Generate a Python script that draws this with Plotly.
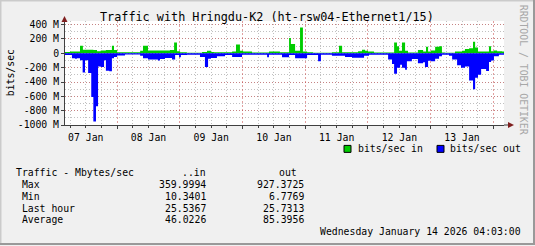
import pandas as pd
import plotly.graph_objects as go

# ---- data ----
# step start times, hours since 2026-01-07 00:00, and values in Mbit/s
in_hours = [4.05, 6.0, 9.8, 10.9, 14.9, 16.3, 17.7, 19.7, 22.0, 22.8, 24.0, 32.8, 33.9, 35.8,
            44.2, 45.8, 46.9, 48.1, 50.7, 56.5, 58.4, 59.9, 61.1, 68.0, 69.5, 71.0, 72.2, 75.6,
            82.1, 86.3, 89.8, 90.5, 92.1, 94.0, 95.1, 96.7, 99.0, 106.2, 108.9, 110.1, 116.2,
            117.7, 118.9, 120.0, 122.3, 130.0, 131.1, 131.9, 133.0, 134.2, 135.3, 139.1, 141.1,
            142.2, 143.0, 144.1, 145.7, 147.2, 148.3, 149.5, 153.3, 156.0, 157.1, 158.7, 160.2,
            161.0, 162.1, 166.3, 167.1, 168.2, 169.4, 171.3]
in_vals = [20, 25, 105, 50, 45, 30, 40, 48, 105, 48, 15, 35, 105, 40,
           45, 150, 30, 15, 8, 20, 35, 20, 15, 25, 122, 35, 25, 10,
           25, 15, 215, 130, 35, 360, 25, 15, 8, 15, 104, 15, 30,
           50, 35, 25, 10, 150, 100, 35, 150, 35, 10, 45, 25,
           90, 25, 40, 90, 100, 10, 8, 25, 35, 60, 70, 160,
           80, 25, 100, 30, 40, 30, 25]

out_hours = [4.05, 6.7, 7.9, 8.6, 9.8, 10.8, 11.7, 12.9, 14.1, 14.9, 15.9, 16.7, 17.7, 19.0,
             19.7, 21.0, 22.0, 22.8, 24.0, 27.0, 32.8, 33.9, 35.8, 39.6, 40.4, 42.3, 45.0,
             46.2, 47.7, 48.4, 50.7, 55.7, 57.6, 58.8, 59.9, 62.2, 65.3, 68.0, 71.8, 81.4,
             82.1, 87.1, 89.8, 92.1, 96.7, 100.9, 102.0, 106.2, 111.2, 113.9, 118.5, 120.4,
             127.7, 129.2, 130.0, 131.1, 132.3, 133.0, 134.2, 134.9, 136.8, 139.1, 141.1,
             141.8, 143.0, 144.1, 145.7, 147.2, 148.3, 151.0, 152.2, 154.1, 155.6, 157.1,
             158.7, 160.2, 161.0, 162.1, 163.3, 165.2, 166.3, 167.1, 168.2, 170.1]
out_vals = [25, 67, 75, 67, 95, 266, 95, 275, 610, 950, 740, 183, 190, 95,
            243, 250, 70, 50, 30, 15, 35, 70, 85, 100, 80, 65, 85,
            25, 55, 25, 20, 50, 190, 75, 65, 40, 25, 50, 20, 55,
            20, 55, 25, 70, 25, 110, 20, 35, 50, 60, 35, 20,
            85, 150, 285, 200, 160, 200, 230, 110, 80, 140, 125,
            190, 105, 110, 75, 40, 20, 35, 85, 165, 200, 185,
            378, 500, 340, 300, 220, 245, 120, 100, 40, 20]

y_ticks = [400, 200, 0, -200, -400, -600, -800, -1000]
y_labels = ["400 M", "200 M", "0", "-200 M", "-400 M", "-600 M", "-800 M", "-1000 M"]

stat_rows = ["Max", "Min", "Last hour", "Average"]
stat_in = ["359.9994", "10.3401", "25.5367", "46.0226"]
stat_out = ["927.3725", "6.7769", "25.7313", "85.3956"]

title = "Traffic with Hringdu-K2 (ht-rsw04-Ethernet1/15)"
stamp = "Wednesday January 14 2026 04:03:00"

# ---- build ----
base = pd.Timestamp("2026-01-07 00:00")
end_h = 172.05
t_start = base + pd.to_timedelta(4.05, unit="h")
t_end = base + pd.to_timedelta(end_h, unit="h")

def steps(hours, vals, sign):
    xs = [base + pd.to_timedelta(h, unit="h") for h in hours] + [t_end]
    ys = [sign * v * 1e6 for v in vals] + [sign * vals[-1] * 1e6]
    return xs, ys

W, H = 535, 246
L, R, T, B = 65, 504, 21, 125.5
def px(x):
    return (x - L) / (R - L)
def py(y):
    return (B - y) / (B - T)

FONT = "DejaVu Sans Mono"
FS = 9.8
fig = go.Figure()
xi, yi = steps(in_hours, in_vals, 1)
xo, yo = steps(out_hours, out_vals, -1)
fig.add_trace(go.Scatter(x=xi, y=yi, mode="lines", line=dict(shape="hv", width=0, color="#00CC00"),
                         fill="tozeroy", fillcolor="#00CC00", hoverinfo="skip"))
fig.add_trace(go.Scatter(x=xo, y=yo, mode="lines", line=dict(shape="hv", width=0, color="#0000FF"),
                         fill="tozeroy", fillcolor="#0000FF", hoverinfo="skip"))

fig.update_layout(
    width=W, height=H, margin=dict(l=L, r=W - R, t=T, b=H - B),
    paper_bgcolor="#F0F0F0", plot_bgcolor="#FFFFFF", showlegend=False,
    font=dict(family=FONT, size=FS, color="#000000"),
)
fig.update_xaxes(
    range=[t_start, t_end], type="date", dtick=86400000, tick0="2026-01-07",
    ticklabelmode="period", tickformat="%d %b", automargin=False,
    showgrid=True, gridcolor="rgba(200,80,80,0.55)", griddash="2px,2px", gridwidth=1,
    ticks="outside", ticklen=3, tickcolor="#404040",
    showline=True, linecolor="#404040", linewidth=1, zeroline=False,
    minor=dict(dtick=6 * 3600000, showgrid=True, gridcolor="rgba(140,140,140,0.55)",
               griddash="1px,2px", ticks="outside", ticklen=2, tickcolor="#404040"),
    tickfont=dict(family=FONT, size=FS),
)
fig.update_yaxes(
    range=[-1000e6, 451e6], tickvals=[v * 1e6 for v in y_ticks], ticktext=y_labels,
    automargin=False,
    showgrid=True, gridcolor="rgba(200,80,80,0.55)", griddash="1px,2px",
    ticks="outside", ticklen=3, tickcolor="#404040",
    showline=True, linecolor="#404040", linewidth=1, zeroline=False,
    minor=dict(dtick=100e6, showgrid=True, gridcolor="rgba(140,140,140,0.55)",
               griddash="1px,2px", ticks="", ticklen=2),
    tickfont=dict(family=FONT, size=FS),
)

shapes = []
# axis extensions and arrows
shapes.append(dict(type="line", xref="paper", yref="paper", x0=px(R), x1=px(509), y0=0, y1=0,
                   line=dict(color="#404040", width=1)))
shapes.append(dict(type="line", xref="paper", yref="paper", x0=0, x1=0, y0=1, y1=py(19),
                   line=dict(color="#404040", width=1)))
shapes.append(dict(type="path", xref="paper", yref="paper",
                   path=f"M {px(508)} {py(122.5)} L {px(514)} {py(125.5)} L {px(508)} {py(128.5)} Z",
                   fillcolor="#7F1F1F", line=dict(width=0)))
shapes.append(dict(type="path", xref="paper", yref="paper",
                   path=f"M {px(61.5)} {py(22)} L {px(64.5)} {py(16)} L {px(67.5)} {py(22)} Z",
                   fillcolor="#7F1F1F", line=dict(width=0)))
# legend boxes
for x0, col in [(344, "#00CC00"), (437, "#0000FF")]:
    shapes.append(dict(type="rect", xref="paper", yref="paper", x0=px(x0), x1=px(x0 + 7),
                       y0=py(153), y1=py(146), fillcolor=col, line=dict(color="#000000", width=1)))
# 3D frame
shapes.append(dict(type="line", xref="paper", yref="paper", x0=px(0), x1=px(W), y0=py(0.5), y1=py(0.5),
                   line=dict(color="#CBCBCB", width=2)))
shapes.append(dict(type="line", xref="paper", yref="paper", x0=px(0.5), x1=px(0.5), y0=py(0), y1=py(H),
                   line=dict(color="#CBCBCB", width=2)))
shapes.append(dict(type="line", xref="paper", yref="paper", x0=px(0), x1=px(W), y0=py(H - 1), y1=py(H - 1),
                   line=dict(color="#999999", width=2)))
shapes.append(dict(type="line", xref="paper", yref="paper", x0=px(W - 1), x1=px(W - 1), y0=py(0), y1=py(H),
                   line=dict(color="#999999", width=2)))
fig.update_layout(shapes=shapes)

def ann(text, x, y, xanchor="left", size=FS, color="#000000", angle=0):
    fig.add_annotation(text=text, x=px(x), y=py(y), xref="paper", yref="paper", showarrow=False,
                       xanchor=xanchor, yanchor="middle", textangle=angle, borderpad=0,
                       font=dict(family=FONT, size=size, color=color))

ann(title, 266.5, 16.5, "center", size=11.8)
ann("bits/sec", 10.5, 73, "center", angle=-90)
ann("RRDTOOL / TOBI OETIKER", 523, 70, "center", size=9.8, color="#A8A8A8", angle=90)
ann("bits/sec in", 357, 149.5)
ann("bits/sec out", 449, 149.5)
ann("Traffic - Mbytes/sec", 14.5, 173)
ann("..in", 206.5, 173, "right")
ann("out", 297.5, 173, "right")
for i, (r, a, b) in enumerate(zip(stat_rows, stat_in, stat_out)):
    yy = 185.5 + i * 11.8
    ann(" " + r, 14.5, yy)
    ann(a, 206.5, yy, "right")
    ann(b, 304.5, yy, "right")
ann(stamp, 521.5, 233, "right")

fig.write_html("out.html")
